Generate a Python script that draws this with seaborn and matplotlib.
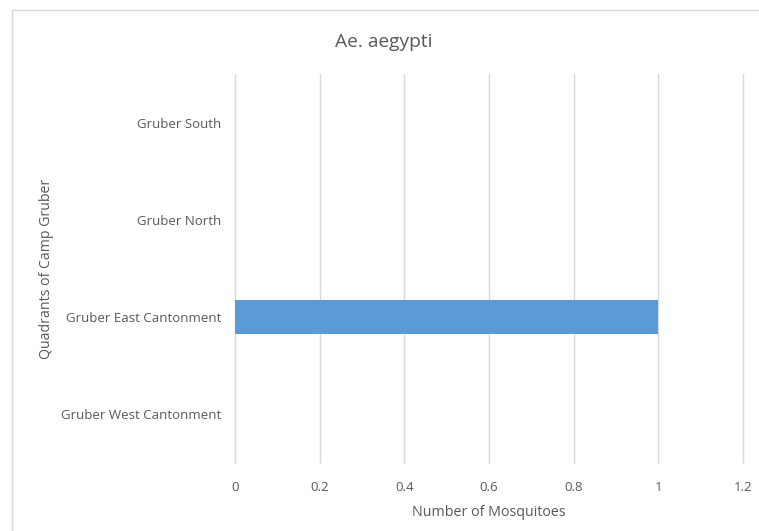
import matplotlib
matplotlib.use("Agg")
import matplotlib.pyplot as plt
import seaborn as sns
import pandas as pd
from matplotlib.patches import Rectangle

categories = ["Gruber South", "Gruber North", "Gruber East Cantonment", "Gruber West Cantonment"]
values = [0, 0, 1, 0]
xticks = [0, 0.2, 0.4, 0.6, 0.8, 1, 1.2]
xtick_labels = ["0", "0.2", "0.4", "0.6", "0.8", "1", "1.2"]

sns.set_style("white")
plt.rcParams['font.family'] = ['Open Sans', 'DejaVu Sans']

TXT = "#595959"
GRID = "#D9D9D9"
BAR = "#5B9BD5"

W, H = 759, 531
fig = plt.figure(figsize=(W/100, H/100), dpi=100)
fig.patch.set_facecolor("white")
# chart border (cropped on right and bottom)
fig.patches.append(Rectangle((12/W, -0.05), 1.2, (H-10)/H + 0.05, transform=fig.transFigure,
                             fill=False, edgecolor="#D9D9D9", linewidth=1.0))

ax = fig.add_axes([235/W, (H-463)/H, (743-235)/W, (463-74)/H])
df = pd.DataFrame({"Quadrant": categories, "Count": values})
sns.barplot(data=df, x="Count", y="Quadrant", orient="h", color=BAR, width=0.35,
            saturation=1, ax=ax, zorder=3, linewidth=0)

ax.set_xlim(0, 1.2)
ax.set_xticks(xticks)
ax.set_xticklabels(xtick_labels)
ax.grid(axis="x", color=GRID, linewidth=1.0, zorder=0)
for gl in ax.get_xgridlines():
    gl.set_clip_on(False)
ax.set_axisbelow(True)
for s in ax.spines.values():
    s.set_visible(False)
ax.tick_params(axis="both", length=0, colors=TXT, labelsize=9.5)
ax.tick_params(axis="y", pad=10)
ax.tick_params(axis="x", pad=13)
ax.set_xlabel("Number of Mosquitoes", color=TXT, fontsize=10.3, labelpad=8)
ax.set_ylabel("Quadrants of Camp Gruber", color=TXT, fontsize=10.2)
ax.yaxis.set_label_coords((54 - 235)/(743-235), 0.5)

fig.text(384/W, 1 - 42/H, "Ae. aegypti", ha="center", va="center", color=TXT, fontsize=13.8)

fig.savefig("out.png", dpi=100, facecolor="white")
